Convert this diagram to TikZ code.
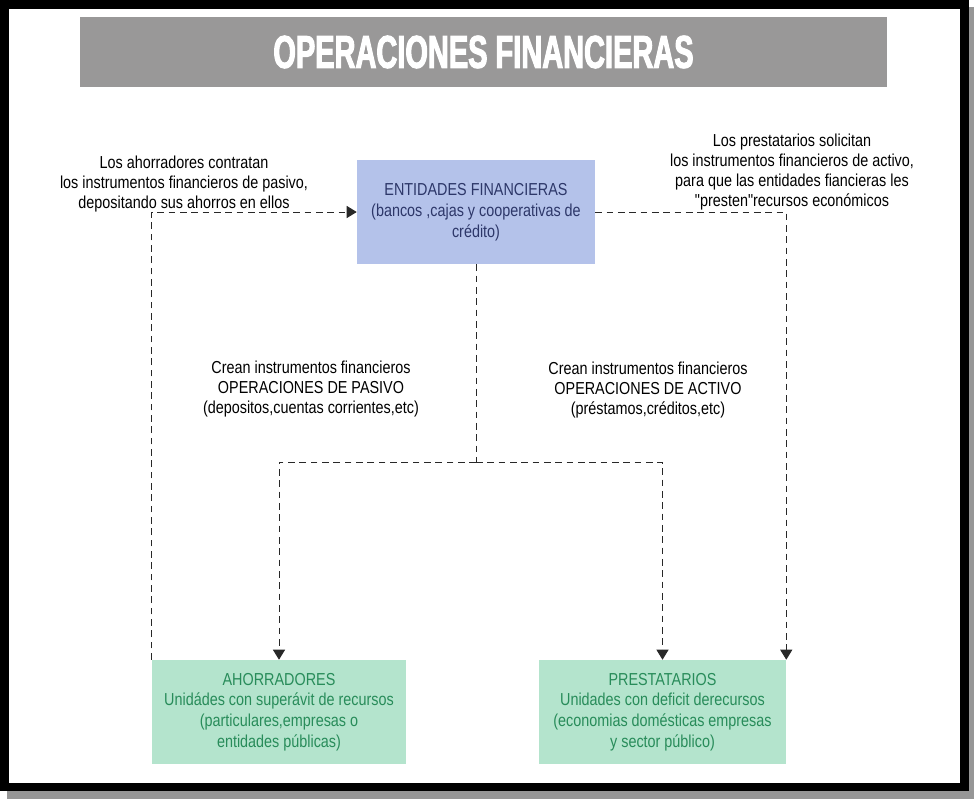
\documentclass[tikz,border=0pt]{standalone}
\usepackage{fontspec}
\setmainfont[FakeStretch=0.83]{Liberation Sans}
\newfontfamily\titlefont[FakeStretch=0.63,FakeBold=2.2]{Liberation Sans}
\defaultfontfeatures{}
\newfontfamily\qfont[FakeStretch=0.83]{Liberation Sans}
\newcommand{\sq}{{\qfont\symbol{34}}}
\usetikzlibrary{arrows.meta}
\definecolor{titlegray}{RGB}{153,152,152}
\definecolor{entfill}{RGB}{180,194,234}
\definecolor{enttext}{RGB}{45,55,105}
\definecolor{grnfill}{RGB}{180,228,205}
\definecolor{grntext}{RGB}{40,140,90}
\definecolor{linegray}{RGB}{40,40,40}
\definecolor{shadowgray}{RGB}{150,150,150}
\begin{document}
\begin{tikzpicture}[x=0.75pt,y=-0.75pt,
  txt/.style={align=center,font=\fontsize{13}{15}\selectfont,text=black,inner sep=0pt},
  entbox/.style={fill=entfill,minimum width=178.5pt,minimum height=78pt,inner sep=0pt,align=center,
     font=\fontsize{13}{15.8}\selectfont,text=enttext},
  grnbox/.style={fill=grnfill,minimum height=78pt,inner sep=0pt,align=center,
     font=\fontsize{13}{15.5}\selectfont,text=grntext},
  dline/.style={draw=linegray,line width=0.75pt,dash pattern=on 5pt off 3.5pt},
  arr/.style={-{Triangle[length=7.5pt,width=9pt]}}]
\useasboundingbox (0,0) rectangle (974,799);
% frame
\fill[shadowgray] (7,7) rectangle (974,799);
\fill[black] (0,0) rectangle (969,791);
\fill[white] (9,9) rectangle (960,783);
% title
\node[fill=titlegray,minimum width=605.25pt,minimum height=52.5pt,inner sep=0pt,
      text=white,font=\titlefont\bfseries\fontsize{34.5}{36}\selectfont] (title) at (483.5,52) {OPERACIONES FINANCIERAS};
% boxes
\node[entbox] (ent) at (476,212) {ENTIDADES FINANCIERAS\\(bancos ,cajas y cooperativas de\\crédito)};
\node[grnbox,minimum width=190.5pt] (ahorr) at (279,712) {AHORRADORES\\Unidádes con superávit de recursos\\(particulares,empresas o\\entidades públicas)};
\node[grnbox,minimum width=185.25pt] (prest) at (662.5,712) {PRESTATARIOS\\Unidades con deficit derecursos\\(economias domésticas empresas\\y sector público)};
% labels
\node[txt] (lblA) at (184,184) {Los ahorradores contratan\\los instrumentos financieros de pasivo,\\depositando sus ahorros en ellos};
\node[txt] (lblB) at (792,172) {Los prestatarios solicitan\\los instrumentos financieros de activo,\\para que las entidades fiancieras les\\\sq presten\sq recursos económicos};
\node[txt] (lblC) at (311,389) {Crean instrumentos financieros\\OPERACIONES DE PASIVO\\(depositos,cuentas corrientes,etc)};
\node[txt] (lblD) at (648,390) {Crean instrumentos financieros\\OPERACIONES DE ACTIVO\\(préstamos,créditos,etc)};
% connectors
\coordinate (split) at (476,462);
\draw[dline,arr] (ahorr.north west) |- (ent.west);
\draw[dline,arr] (ent.east) -| (prest.north east);
\draw[dline] (ent.south) -- (split);
\draw[dline,arr] (split) -| (ahorr.north);
\draw[dline,arr] (split) -| (prest.north);
\end{tikzpicture}
\end{document}
